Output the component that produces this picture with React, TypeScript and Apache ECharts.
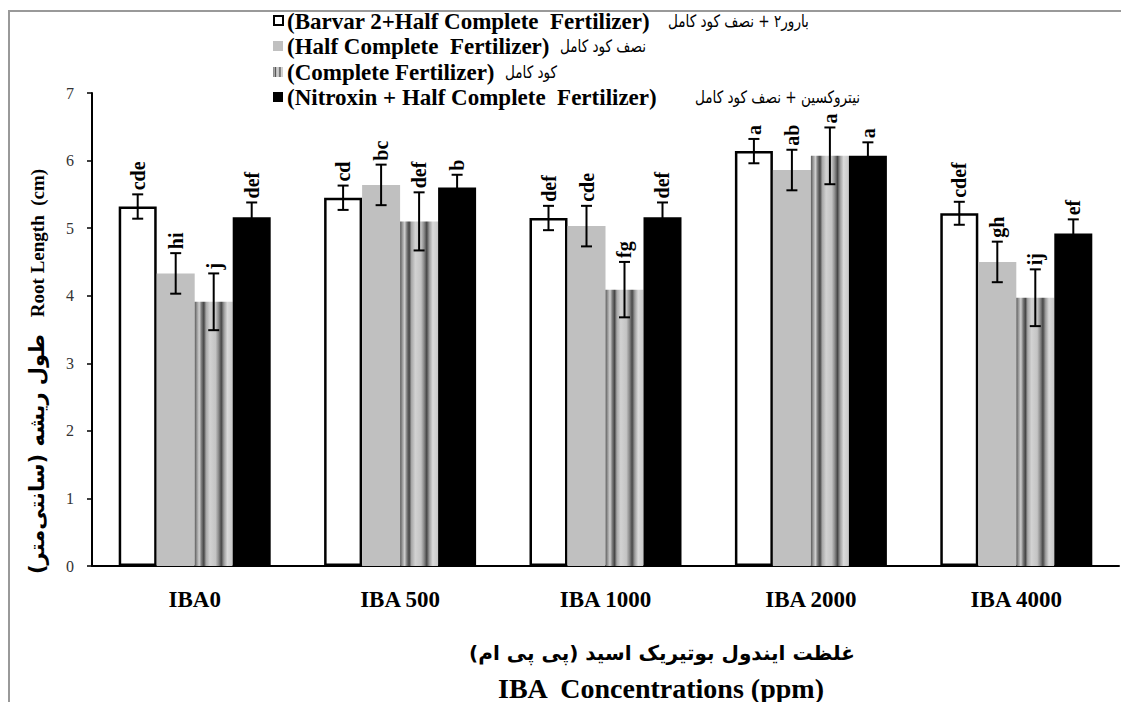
import React, { useEffect, useRef } from "react";
import * as echarts from "echarts";

const categories = ["IBA0", "IBA 500", "IBA 1000", "IBA 2000", "IBA 4000"];

const barvarValues = [5.32, 5.45, 5.15, 6.14, 5.22];
const barvarErrors = [0.18, 0.18, 0.18, 0.18, 0.17];
const barvarLetters = ["cde", "cd", "def", "a", "cdef"];

const halfValues = [4.33, 5.64, 5.03, 5.86, 4.5];
const halfErrors = [0.3, 0.3, 0.3, 0.3, 0.3];
const halfLetters = ["hi", "bc", "cde", "ab", "gh"];

const completeValues = [3.91, 5.1, 4.09, 6.07, 3.97];
const completeErrors = [0.42, 0.43, 0.41, 0.42, 0.42];
const completeLetters = ["j", "def", "fg", "a", "ij"];

const nitroxinValues = [5.16, 5.6, 5.16, 6.07, 4.92];
const nitroxinErrors = [0.22, 0.19, 0.22, 0.2, 0.21];
const nitroxinLetters = ["def", "b", "def", "a", "ef"];

const legendEnglish = [
  "(Barvar 2+Half Complete  Fertilizer)",
  "(Half Complete  Fertilizer)",
  "(Complete Fertilizer)",
  "(Nitroxin + Half Complete  Fertilizer)",
];
const legendPersian = [
  "بارور۲ + نصف کود کامل",
  "نصف کود کامل",
  "کود کامل",
  "نیتروکسین + نصف کود کامل",
];

const yTitleEn = "Root Length  (cm)";
const yTitleFa = "طول ریشه (سانتی‌متر)\u200F";
const xTitleFa = "غلظت ایندول بوتیریک اسید (پی پی ام)\u200F";
const xTitleEn = "IBA  Concentrations (ppm)";

const CAT_GAP = 0.26;
const SERIF = "Liberation Serif, Times New Roman, serif";
const FA = "DejaVu Sans, sans-serif";

const stripeStops = [
  { offset: 0, color: "#5a5a5a" },
  { offset: 0.06, color: "#9a9a9a" },
  { offset: 0.12, color: "#cfcfcf" },
  { offset: 0.18, color: "#7a7a7a" },
  { offset: 0.24, color: "#454545" },
  { offset: 0.3, color: "#a8a8a8" },
  { offset: 0.4, color: "#d2d2d2" },
  { offset: 0.55, color: "#c4c4c4" },
  { offset: 0.63, color: "#8a8a8a" },
  { offset: 0.7, color: "#474747" },
  { offset: 0.77, color: "#9c9c9c" },
  { offset: 0.86, color: "#dadada" },
  { offset: 1, color: "#c8c8c8" },
];
const stripeFill = () => ({
  type: "linear",
  x: 0,
  y: 0,
  x2: 1,
  y2: 0,
  colorStops: stripeStops,
});

export default function App() {
  const ref = useRef<HTMLDivElement>(null);

  useEffect(() => {
    if (!ref.current) return;
    const chart = echarts.init(ref.current, null, { renderer: "svg" });

    const groups = [
      { v: barvarValues, e: barvarErrors, l: barvarLetters },
      { v: halfValues, e: halfErrors, l: halfLetters },
      { v: completeValues, e: completeErrors, l: completeLetters },
      { v: nitroxinValues, e: nitroxinErrors, l: nitroxinLetters },
    ];
    const errData: number[][] = [];
    const errLabels: string[] = [];
    groups.forEach((g, s) => {
      g.v.forEach((val, c) => {
        errData.push([c, val, g.e[c], s]);
        errLabels.push(g.l[c]);
      });
    });

    const legendRowsY = [13, 38, 64, 89];
    const legendPersianX = [660, 552, 497, 687];
    const legendGraphics: any[] = [];
    legendRowsY.forEach((y, i) => {
      let icon: any;
      if (i === 0) {
        icon = {
          type: "rect",
          shape: { x: 266, y: y - 5, width: 9, height: 9 },
          style: { fill: "#fff", stroke: "#000", lineWidth: 2 },
        };
      } else if (i === 1) {
        icon = {
          type: "rect",
          shape: { x: 265, y: y - 5, width: 10, height: 10 },
          style: { fill: "#c0c0c0" },
        };
      } else if (i === 2) {
        icon = {
          type: "rect",
          shape: { x: 265, y: y - 5, width: 10, height: 10 },
          style: { fill: stripeFill() },
        };
      } else {
        icon = {
          type: "rect",
          shape: { x: 265, y: y - 5, width: 10, height: 10 },
          style: { fill: "#000" },
        };
      }
      legendGraphics.push(icon);
      legendGraphics.push({
        type: "text",
        x: 279,
        y,
        style: {
          text: legendEnglish[i],
          font: `bold 23px ${SERIF}`,
          fill: "#000",
          align: "left",
          verticalAlign: "middle",
        },
      });
      legendGraphics.push({
        type: "text",
        x: legendPersianX[i],
        y,
        scaleX: 0.8,
        style: {
          text: legendPersian[i],
          font: `17px ${FA}`,
          fill: "#000",
          align: "left",
          verticalAlign: "middle",
        },
      });
    });

    const option: any = {
      animation: false,
      backgroundColor: "#fff",
      grid: { left: 84, right: 2, top: 85, bottom: 136, containLabel: false },
      xAxis: {
        type: "category",
        data: categories,
        axisLine: { lineStyle: { color: "#000", width: 2 } },
        axisTick: { length: 6, lineStyle: { color: "#000", width: 1.5 } },
        axisLabel: {
          fontFamily: SERIF,
          fontWeight: "bold",
          fontSize: 23,
          color: "#000",
          margin: 22,
        },
      },
      yAxis: {
        type: "value",
        min: 0,
        max: 7,
        interval: 1,
        axisLine: { show: true, lineStyle: { color: "#000", width: 2 } },
        axisTick: { show: true, length: 5, lineStyle: { color: "#000", width: 1.5 } },
        axisLabel: { fontFamily: SERIF, fontSize: 16, color: "#333", margin: 18 },
        splitLine: { show: false },
      },
      series: [
        {
          type: "bar",
          name: legendEnglish[0],
          data: barvarValues,
          barGap: "0%",
          barCategoryGap: CAT_GAP * 100 + "%",
          itemStyle: { color: "#fff", borderColor: "#000", borderWidth: 2.5 },
        },
        {
          type: "bar",
          name: legendEnglish[1],
          data: halfValues,
          itemStyle: { color: "#c0c0c0" },
        },
        {
          type: "bar",
          name: legendEnglish[2],
          data: completeValues,
          itemStyle: { color: stripeFill() },
        },
        {
          type: "bar",
          name: legendEnglish[3],
          data: nitroxinValues,
          itemStyle: { color: "#000" },
        },
        {
          type: "custom",
          data: errData,
          encode: { x: 0, y: 1 },
          z: 10,
          renderItem: (params: any, api: any) => {
            const c = api.value(0);
            const v = api.value(1);
            const e = api.value(2);
            const s = api.value(3);
            const band = api.size([1, 0])[0];
            const bw = (band * (1 - CAT_GAP)) / 4;
            const base = api.coord([c, v]);
            const x = base[0] + (s - 1.5) * bw;
            const yTop = api.coord([c, v + e])[1];
            const yBot = api.coord([c, v - e])[1];
            const cap = 5.5;
            const ls = { stroke: "#000", lineWidth: 2 };
            return {
              type: "group",
              children: [
                { type: "line", shape: { x1: x, y1: yTop, x2: x, y2: yBot }, style: ls },
                { type: "line", shape: { x1: x - cap, y1: yTop, x2: x + cap, y2: yTop }, style: ls },
                { type: "line", shape: { x1: x - cap, y1: yBot, x2: x + cap, y2: yBot }, style: ls },
                {
                  type: "text",
                  x: x,
                  y: yTop - 4,
                  rotation: Math.PI / 2,
                  style: {
                    text: errLabels[params.dataIndex],
                    font: `bold 20px ${SERIF}`,
                    fill: "#000",
                    align: "left",
                    verticalAlign: "middle",
                  },
                },
              ],
            };
          },
        },
      ],
      graphic: [
        {
          type: "polyline",
          shape: { points: [[1, 694], [1, 3], [1113, 3]] },
          style: { stroke: "#999", lineWidth: 2, fill: null },
        },
        ...legendGraphics,
        {
          type: "text",
          x: 29,
          y: 235,
          rotation: Math.PI / 2,
          style: {
            text: yTitleEn,
            font: `bold 19px ${SERIF}`,
            fill: "#000",
            align: "center",
            verticalAlign: "middle",
          },
        },
        {
          type: "text",
          x: 29,
          y: 446,
          rotation: Math.PI / 2,
          style: {
            text: yTitleFa,
            font: `bold 21px ${FA}`,
            fill: "#000",
            align: "center",
            verticalAlign: "middle",
          },
        },
        {
          type: "text",
          x: 654,
          y: 645,
          style: {
            text: xTitleFa,
            font: `bold 20px ${FA}`,
            fill: "#000",
            align: "center",
            verticalAlign: "middle",
          },
        },
        {
          type: "text",
          x: 653,
          y: 680,
          style: {
            text: xTitleEn,
            font: `bold 28px ${SERIF}`,
            fill: "#000",
            align: "center",
            verticalAlign: "middle",
          },
        },
      ],
    };

    chart.setOption(option);
    return () => chart.dispose();
  }, []);

  return <div ref={ref} style={{ width: 1113, height: 694 }} />;
}
